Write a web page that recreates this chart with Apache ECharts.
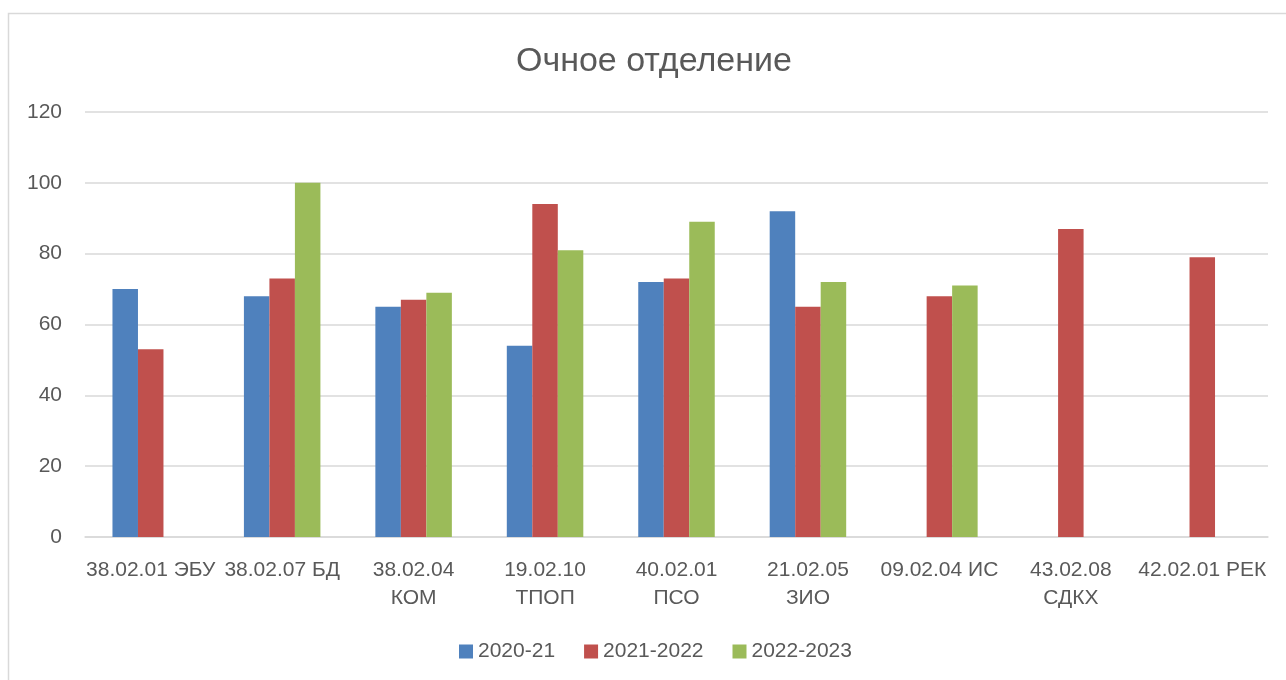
<!DOCTYPE html>
<html>
<head>
<meta charset="utf-8">
<script src="https://cdn.jsdelivr.net/npm/echarts@6/dist/echarts.min.js"></script>
<style>
  html, body { margin: 0; padding: 0; background: #fff; }
  #chart { width: 1286px; height: 680px; }
</style>
</head>
<body>
<div id="chart"></div>
<script>
const categories = [
  '38.02.01 ЭБУ', '38.02.07 БД', '38.02.04\nКОМ', '19.02.10\nТПОП', '40.02.01\nПСО',
  '21.02.05\nЗИО', '09.02.04 ИС', '43.02.08\nСДКХ', '42.02.01 РЕК'
];
const seriesNames = ['2020-21', '2021-2022', '2022-2023'];
const values2020 = [70, 68, 65, 54, 72, 92, null, null, null];
const values2021 = [53, 73, 67, 94, 73, 65, 68, 87, 79];
const values2022 = [null, 100, 69, 81, 89, 72, 71, null, null];
const yTicks = [0, 20, 40, 60, 80, 100, 120];

const textColor = '#595959';
const font = 'Liberation Sans';
const colors = ['#4F81BD', '#C0504D', '#9BBB59'];

const chart = echarts.init(document.getElementById('chart'));

function bar(name, data, color) {
  return {
    name: name,
    type: 'bar',
    data: data,
    barWidth: 25.5,
    barGap: '0%',
    itemStyle: { color: color },
    emphasis: { disabled: true }
  };
}

chart.setOption({
  backgroundColor: '#fff',
  animation: false,
  textStyle: { fontFamily: font },
  graphic: [{
    type: 'rect',
    shape: { x: 8.5, y: 13.5, width: 1300, height: 700 },
    style: { fill: 'none', stroke: '#D9D9D9', lineWidth: 1.5 },
    silent: true
  }],
  title: {
    text: 'Очное отделение',
    left: 511,
    top: 40,
    textStyle: { fontFamily: font, fontSize: 34, fontWeight: 'normal', color: textColor }
  },
  legend: {
    data: seriesNames,
    left: 459,
    top: 641,
    padding: 0,
    itemWidth: 14,
    itemHeight: 14,
    itemGap: 29,
    icon: 'rect',
    textStyle: { fontFamily: font, fontSize: 21, color: textColor }
  },
  grid: { left: 85, right: 18, top: 112, bottom: 143, containLabel: false },
  xAxis: {
    type: 'category',
    data: categories,
    axisTick: { show: false },
    axisLine: { lineStyle: { color: '#D9D9D9', width: 1.5 } },
    axisLabel: {
      interval: 0,
      margin: 19,
      fontFamily: font,
      fontSize: 21,
      lineHeight: 28,
      color: textColor
    }
  },
  yAxis: {
    type: 'value',
    min: yTicks[0],
    max: yTicks[yTicks.length - 1],
    interval: 20,
    axisLine: { show: false },
    axisTick: { show: false },
    splitLine: { lineStyle: { color: '#D9D9D9', width: 1.5 } },
    axisLabel: { margin: 23, fontFamily: font, fontSize: 21, color: textColor }
  },
  series: [
    bar(seriesNames[0], values2020, colors[0]),
    bar(seriesNames[1], values2021, colors[1]),
    bar(seriesNames[2], values2022, colors[2])
  ]
});
</script>
</body>
</html>
